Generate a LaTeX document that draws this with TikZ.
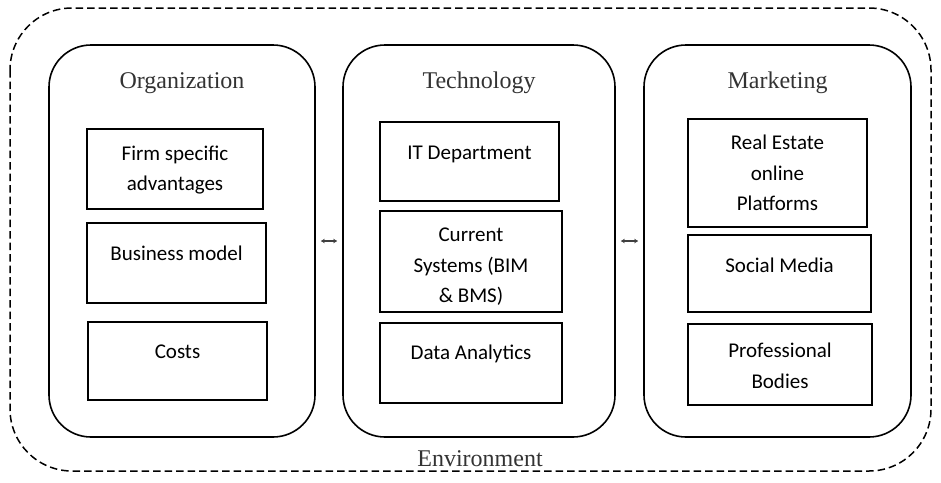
\documentclass[tikz,border=0pt]{standalone}
\usepackage{fontspec}
\setmainfont{Liberation Serif}
\newfontfamily\boxfont{Carlito}
\usetikzlibrary{arrows.meta,fit}

\begin{document}
\begin{tikzpicture}[x=1pt,y=-1pt,
  envline/.style={draw, line width=1.5pt, dash pattern=on 7.5pt off 4pt, rounded corners=62pt},
  region/.style={draw, line width=1.6pt, rounded corners=42pt, inner sep=0pt},
  item/.style={draw, line width=1.5pt, inner sep=0pt},
  heading/.style={font=\fontsize{24}{28}\selectfont, text=black!80},
  itemtext/.style={font=\boxfont\fontsize{21}{30.5}\selectfont, align=center, inner sep=0pt},
  link/.style={draw=black!75, line width=1.3pt, {Stealth[length=4pt,width=4.5pt]}-{Stealth[length=4pt,width=4.5pt]}, shorten <=5pt, shorten >=5pt}]

  \useasboundingbox (0,0) rectangle (941,482);

  % environment boundary
  \draw[envline] (10,8) rectangle (931,471);
  \node[heading] (envt) at (480,459) {Environment};

  % three groups
  \node[region, fit={(49,45) (315,437)}] (org) {};
  \node[region, fit={(343,45) (615,437)}] (tech) {};
  \node[region, fit={(644,45) (911,437)}] (mkt) {};

  \node[heading] (orgt) at (182,83) {Organization};
  \node[heading] (techt) at (479,83) {Technology};
  \node[heading] (mktt) at (777.5,83) {Marketing};

  % organization items
  \node[item, fit={(87,129) (263,209)}] (fsa) {};
  \node[itemtext] (fsat) at (175,170) {Firm specific\\advantages};
  \node[item, fit={(87,223) (266,303)}] (bm) {};
  \node[itemtext] (bmt) at (176.5,253) {Business model};
  \node[item, fit={(88,322) (267,400)}] (cost) {};
  \node[itemtext] (costt) at (177.5,352) {Costs};

  % technology items
  \node[item, fit={(380,122) (559,201)}] (itd) {};
  \node[itemtext] (itdt) at (469.5,154) {IT Department};
  \node[item, fit={(380,211) (562,312)}] (cur) {};
  \node[itemtext] (curt) at (471,267) {Current\\Systems (BIM\\\& BMS)};
  \node[item, fit={(380,323) (562,403)}] (dat) {};
  \node[itemtext] (datt) at (471,354) {Data Analytics};

  % marketing items
  \node[item, fit={(688,119) (867,227)}] (rep) {};
  \node[itemtext] (rept) at (777.5,173) {Real Estate\\online\\Platforms};
  \node[item, fit={(688,235) (871,312)}] (soc) {};
  \node[itemtext] (soct) at (779.5,265) {Social Media};
  \node[item, fit={(688,324) (872,405)}] (prof) {};
  \node[itemtext] (proft) at (780,366) {Professional\\Bodies};

  % links between groups
  \draw[link] (org.east) -- (tech.west);
  \draw[link] (tech.east) -- (mkt.west);
\end{tikzpicture}
\end{document}
